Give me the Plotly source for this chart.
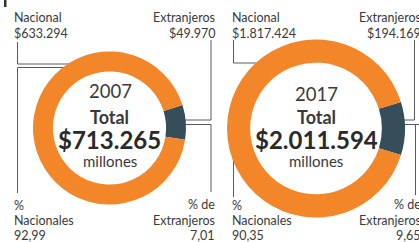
import plotly.graph_objects as go

W, H = 419, 242

years = ["2007", "2017"]
nacional_vals = [633294, 1817424]
extranjeros_vals = [49970, 194169]
nacional_lbl = ["$633.294", "$1.817.424"]
extranjeros_lbl = ["$49.970", "$194.169"]
total_lbl = ["$713.265", "$2.011.594"]
pct_nac = ["92,99", "90,35"]
pct_ext = ["7,01", "9,65"]

ORANGE = "#F4862A"
DARK = "#354E59"
TXT = "#3a3a3a"
LINE = "#5a5a5a"
FONT = "Lato"

def px(x):
    return x / W

def py(y):
    return 1 - y / H

# donut geometry (pixel centres / radii)
centres = [(109.5, 128.0, 76.5), (316.0, 128.5, 89.0)]

fig = go.Figure()
for i in range(2):
    cx, cy, r = centres[i]
    fig.add_trace(go.Pie(
        values=[extranjeros_vals[i], nacional_vals[i]],
        labels=["Extranjeros", "Nacional"],
        sort=False, direction="clockwise", rotation=72.6,
        hole=0.74, textinfo="none", textposition="inside",
        hoverinfo="skip", showlegend=False,
        marker=dict(colors=[DARK, ORANGE], line=dict(width=0)),
        domain=dict(x=[px(cx - r), px(cx + r)], y=[py(cy + r), py(cy - r)]),
    ))

shapes = []
def seg(x0, y0, x1, y1):
    shapes.append(dict(type="line", xref="paper", yref="paper",
                       x0=px(x0), y0=py(y0), x1=px(x1), y1=py(y1),
                       line=dict(color=LINE, width=1), layer="below"))

# left donut connectors
seg(17.5, 42, 17.5, 64); seg(17.5, 64, 75, 64)
seg(17.5, 67.5, 70, 67.5); seg(17.5, 67.5, 17.5, 193)
seg(211, 40, 211, 120); seg(211, 120, 182, 120)
seg(182, 124.5, 211, 124.5); seg(211, 124.5, 211, 192)
# right donut connectors
seg(233.5, 40, 233.5, 63); seg(233.5, 63, 262, 63)
seg(233.5, 160, 233.5, 197)
seg(414.5, 40, 414.5, 120); seg(414.5, 120, 400, 120)
seg(400, 124.5, 419, 124.5); seg(415.5, 124.5, 415.5, 195)

# small header mark at top-left
shapes.append(dict(type="rect", xref="paper", yref="paper",
                   x0=px(4), x1=px(6.5), y0=py(7), y1=py(0),
                   fillcolor="#333333", line=dict(width=0)))

ann = []
def txt(s, x, y, size, anchor="left", bold=False, color=TXT):
    if bold:
        s = "<b>" + s + "</b>"
    ann.append(dict(text=s, x=px(x), y=py(y), xref="paper", yref="paper",
                    xanchor=anchor, yanchor="middle", showarrow=False,
                    font=dict(family=FONT, size=size, color=color),
                    borderpad=0))

LS = 12.5
lx = [13, 231]
rx = [216, 422]
for i in range(2):
    cx = centres[i][0]
    txt("Nacional", lx[i], 18, LS)
    txt(nacional_lbl[i], lx[i], 33, LS)
    txt("Extranjeros", rx[i], 18, LS, "right")
    txt(extranjeros_lbl[i], rx[i], 33, LS, "right")
    txt(years[i], cx + 0.5, 91 + 3 * i, 18.5, "center")
    txt("Total", cx, 117, 18, "center", bold=True)
    txt(total_lbl[i], cx, 139.5, 24, "center", bold=True, color="#2a2a2a")
    txt("millones", cx, 161, 15, "center")
    txt("%", lx[i], 205, LS)
    txt("Nacionales", lx[i], 220, LS)
    txt(pct_nac[i], lx[i], 235, LS)
    txt("% de", rx[i], 204, LS, "right")
    txt("Extranjeros", rx[i], 220, LS, "right")
    txt(pct_ext[i], rx[i], 235, LS, "right")

fig.update_layout(width=W, height=H, margin=dict(l=0, r=0, t=0, b=0),
                  paper_bgcolor="white", plot_bgcolor="white",
                  shapes=shapes, annotations=ann)
fig.write_html("out.html", config={"displayModeBar": False},
               post_script="document.body.style.margin='0';document.body.style.overflow='hidden';")
